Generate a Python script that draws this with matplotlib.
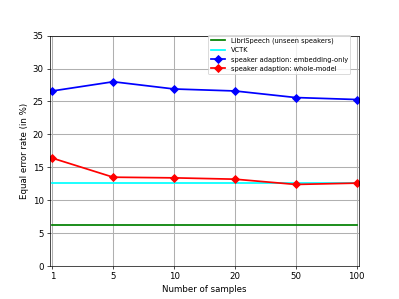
import numpy as np
import matplotlib
matplotlib.use("Agg")
import matplotlib.pyplot as plt

# data
samples = ["1", "5", "10", "20", "50", "100"]
librispeech = 6.3
vctk = 12.6
embedding_only = [26.6, 28.0, 26.9, 26.6, 25.6, 25.3]
whole_model = [16.4, 13.5, 13.4, 13.2, 12.4, 12.6]

fig = plt.figure(figsize=(6.4, 4.8), dpi=399 / 6.4)
ax = fig.add_subplot(111)

x = np.arange(len(samples))
ax.plot(x, [librispeech] * len(x), color="green", lw=2, label="LibriSpeech (unseen speakers)")
ax.plot(x, [vctk] * len(x), color="cyan", lw=2, label="VCTK")
ax.plot(x, embedding_only, color="blue", marker="D", ms=6, lw=2,
        label="speaker adaption: embedding-only")
ax.plot(x, whole_model, color="red", marker="D", ms=6, lw=2,
        label="speaker adaption: whole-model")

ax.set_xticks(x)
ax.set_xticklabels(samples)
ax.set_xlim(-0.04, len(x) - 1 + 0.04)
ax.set_ylim(0, 35)
ax.set_xlabel("Number of samples")
ax.set_ylabel("Equal error rate (in %)")
ax.grid(True, color="#b0b0b0", lw=1.2)
ax.legend(loc="upper right", fontsize=7.7, bbox_to_anchor=(0.972, 1.005),
          borderaxespad=0, handlelength=2.2)

fig.savefig("out.png", dpi=399 / 6.4)
